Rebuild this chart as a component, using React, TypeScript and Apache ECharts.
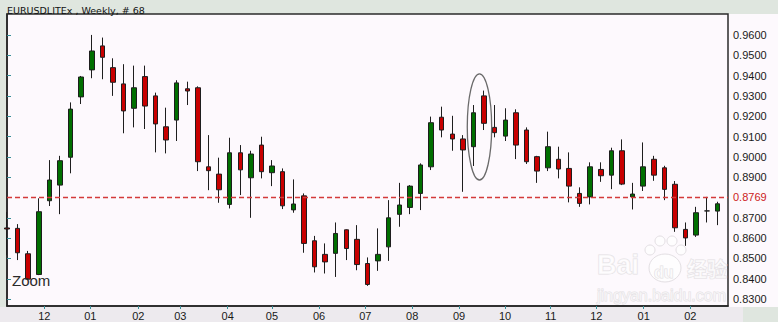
import React, { useEffect, useRef } from 'react';
import * as echarts from 'echarts';

// Weekly candles (index positions); one empty slot at the right edge
const categories: string[] = Array.from({ length: 69 }, (_, i) => String(i));

const openP = [0.8650, 0.8648, 0.8523, 0.8421, 0.8784, 0.8861, 0.8998, 0.9295, 0.9428, 0.9546,
  0.9439, 0.9359, 0.9239, 0.9395, 0.9300, 0.9148, 0.9181, 0.9335, 0.9340, 0.8951,
  0.8915, 0.8766, 0.9020, 0.8897, 0.9058, 0.8922, 0.8927, 0.8739, 0.8808, 0.8587,
  0.8520, 0.8525, 0.8641, 0.8594, 0.8475, 0.8488, 0.8557, 0.8717, 0.8751, 0.8820,
  0.8951, 0.9195, 0.9112, 0.9088, 0.9050, 0.9300, 0.9145, 0.9102, 0.9217, 0.9132,
  0.9001, 0.8946, 0.8988, 0.8943, 0.8820, 0.8803, 0.8938, 0.8910, 0.9030, 0.8803,
  0.8856, 0.8988, 0.8946, 0.8865, 0.8643, 0.8615, 0.8734, 0.8733];

const closeP = [0.8645, 0.8528, 0.8398, 0.8730, 0.8886, 0.8981, 0.9235, 0.9393, 0.9521, 0.9490,
  0.9367, 0.9226, 0.9340, 0.9250, 0.9162, 0.9083, 0.9364, 0.9324, 0.8976, 0.8932,
  0.8838, 0.9020, 0.8936, 0.9014, 0.8927, 0.8955, 0.8759, 0.8768, 0.8574, 0.8459,
  0.8483, 0.8623, 0.8549, 0.8470, 0.8372, 0.8520, 0.8700, 0.8763, 0.8856, 0.8960,
  0.9168, 0.9132, 0.9088, 0.9034, 0.9217, 0.9165, 0.9119, 0.9181, 0.9058, 0.8976,
  0.8930, 0.9050, 0.8940, 0.8856, 0.8771, 0.8951, 0.8907, 0.9030, 0.8866, 0.8817,
  0.8951, 0.8910, 0.8840, 0.8651, 0.8601, 0.8725, 0.8734, 0.8769];

const lowP = [0.8516, 0.8492, 0.8393, 0.8418, 0.8758, 0.8718, 0.8919, 0.9260, 0.9387, 0.9382,
  0.9300, 0.9116, 0.9145, 0.9137, 0.9022, 0.9017, 0.9078, 0.9255, 0.8930, 0.8836,
  0.8774, 0.8746, 0.8812, 0.8700, 0.8894, 0.8856, 0.8743, 0.8725, 0.8528, 0.8431,
  0.8426, 0.8409, 0.8492, 0.8442, 0.8365, 0.8439, 0.8488, 0.8656, 0.8718, 0.8738,
  0.8935, 0.9096, 0.9030, 0.8828, 0.8955, 0.9132, 0.9096, 0.9078, 0.8989, 0.8965,
  0.8872, 0.8930, 0.8894, 0.8776, 0.8754, 0.8766, 0.8877, 0.8841, 0.8861, 0.8741,
  0.8832, 0.8882, 0.8787, 0.8631, 0.8562, 0.8606, 0.8677, 0.8664];

const highP = [0.8728, 0.8669, 0.8537, 0.8796, 0.8984, 0.9005, 0.9268, 0.9398, 0.9600, 0.9587,
  0.9485, 0.9456, 0.9449, 0.9449, 0.9316, 0.9242, 0.9377, 0.9370, 0.9347, 0.9107,
  0.8996, 0.9094, 0.9058, 0.9030, 0.9099, 0.8984, 0.8943, 0.8889, 0.8820, 0.8611,
  0.8574, 0.8677, 0.8643, 0.8664, 0.8505, 0.8648, 0.8787, 0.8872, 0.8861, 0.8968,
  0.9198, 0.9247, 0.9202, 0.9107, 0.9255, 0.9326, 0.9255, 0.9239, 0.9234, 0.9145,
  0.9005, 0.9124, 0.9050, 0.9022, 0.8850, 0.8973, 0.8973, 0.9045, 0.9086, 0.8872,
  0.9071, 0.9005, 0.8956, 0.8881, 0.8677, 0.8754, 0.8803, 0.8779];

const yTickValues = [0.83, 0.84, 0.85, 0.86, 0.87, 0.88, 0.89, 0.90, 0.91, 0.92, 0.93, 0.94, 0.95, 0.96];
const yLabelValues = [0.83, 0.84, 0.85, 0.86, 0.87, 0.89, 0.90, 0.91, 0.92, 0.93, 0.94, 0.95, 0.96];
const yMin = 0.8266;
const yMax = 0.9703;

const monthPos = [3.52, 7.86, 12.38, 16.34, 20.81, 24.99, 29.43, 33.79, 38.22, 42.63, 46.97, 51.28, 55.58, 60.05, 64.44];
const monthLabels = ['12', '01', '02', '03', '04', '05', '06', '07', '08', '09', '10', '11', '12', '01', '02'];

const lastPrice = 0.8769;
const titleText = 'EURUSDLITEx , Weekly, # 68';

// highlighted region (ellipse annotation) in data units
const ellipseCenterIdx = 44.56;
const ellipseHalfWidthIdx = 1.15;
const ellipseTop = 0.9408;
const ellipseBottom = 0.8886;

export default function App() {
  const ref = useRef<HTMLDivElement>(null);

  useEffect(() => {
    if (!ref.current) return;
    const chart = echarts.init(ref.current, null, { renderer: 'svg' });
    const font = '"Liberation Sans", Arial, sans-serif';
    const data = openP.map((o, i) => [o, closeP[i], lowP[i], highP[i]]);
    const dashStyle = { type: [5, 3] as number[], color: '#d43a3a', width: 1.3 };

    chart.setOption({
      animation: false,
      backgroundColor: '#fdf9fd',
      textStyle: { fontFamily: font },
      grid: {
        left: 7, right: 50, top: 14, bottom: 16,
        show: true, backgroundColor: '#fdf9fd', borderColor: '#2b2b2b', borderWidth: 1.5,
      },
      xAxis: [
        { type: 'category', data: categories, boundaryGap: false, show: false },
        {
          type: 'value', min: 0, max: categories.length - 1, position: 'bottom',
          axisLine: { show: true, lineStyle: { color: '#222', width: 1.5 } },
          axisTick: { show: true, customValues: monthPos, length: 3, lineStyle: { color: '#3a8f98', width: 1 } },
          axisLabel: {
            customValues: monthPos,
            formatter: (v: number) => {
              let best = 0;
              monthPos.forEach((p, i) => { if (Math.abs(p - v) < Math.abs(monthPos[best] - v)) best = i; });
              return monthLabels[best];
            },
            color: '#1a1a1a', fontSize: 11, margin: 4, fontFamily: font,
          },
          splitLine: { show: false },
        },
      ],
      yAxis: {
        type: 'value', position: 'right', min: yMin, max: yMax,
        axisLine: { show: true, lineStyle: { color: '#222', width: 1.5 } },
        axisTick: { show: true, customValues: yTickValues, length: 4, lineStyle: { color: '#3a8f98', width: 1 } },
        axisLabel: {
          customValues: yLabelValues,
          formatter: (v: number) => v.toFixed(4),
          color: '#1a1a1a', fontSize: 11, margin: 5, fontFamily: font,
        },
        splitLine: { show: false },
      },
      series: [
        {
          type: 'candlestick',
          xAxisIndex: 0,
          yAxisIndex: 0,
          data,
          barWidth: 5,
          itemStyle: {
            color: '#006f00', color0: '#c80000',
            borderColor: '#1e1e1e', borderColor0: '#1e1e1e', borderWidth: 1,
          },
          markLine: {
            silent: true,
            symbol: ['none', 'none'],
            data: [{ yAxis: lastPrice, lineStyle: dashStyle }],
            lineStyle: dashStyle,
            label: {
              show: true, position: 'end', formatter: lastPrice.toFixed(4),
              color: '#cc2222', fontSize: 11, fontFamily: font, distance: 5,
            },
          },
        },
      ],
    });

    const cx = chart.convertToPixel({ xAxisIndex: 1 }, ellipseCenterIdx) as number;
    const cx2 = chart.convertToPixel({ xAxisIndex: 1 }, ellipseCenterIdx + ellipseHalfWidthIdx) as number;
    const yT = chart.convertToPixel({ yAxisIndex: 0 }, ellipseTop) as number;
    const yB = chart.convertToPixel({ yAxisIndex: 0 }, ellipseBottom) as number;

    const wmStroke = '#e3dfe3';
    const wmFill = 'rgba(255,255,255,0.6)';
    chart.setOption({
      graphic: [
        { type: 'rect', z: -10, silent: true, shape: { x: 0, y: 0, width: 778, height: 14 }, style: { fill: '#dfe6df' } },
        { type: 'rect', z: -10, silent: true, shape: { x: 0, y: 14, width: 6, height: 293 }, style: { fill: '#dfe6df' } },
        { type: 'rect', z: -10, silent: true, shape: { x: 0, y: 307, width: 743, height: 15 }, style: { fill: '#edeaee' } },
        { type: 'rect', z: -10, silent: true, shape: { x: 743, y: 307, width: 35, height: 15 }, style: { fill: '#dfe6df' } },
        {
          type: 'text', z: 100, silent: true,
          style: { text: titleText, x: 7, y: 15, textVerticalAlign: 'bottom', fill: '#111', font: '9.5px "DejaVu Sans", Verdana, sans-serif' },
        },
        {
          type: 'text', z: 100, silent: true,
          style: { text: 'Zoom', x: 12, y: 288, textVerticalAlign: 'bottom', fill: '#2a2a2a', font: '15px ' + font },
        },
        // watermark
        {
          type: 'text', z: 50, silent: true,
          style: { text: 'Bai', x: 597, y: 278, textVerticalAlign: 'bottom', fill: wmFill, stroke: wmStroke, lineWidth: 1, font: 'bold 27px ' + font },
        },
        { type: 'ellipse', z: 50, silent: true, shape: { cx: 665, cy: 268, rx: 16, ry: 14 }, style: { fill: wmFill, stroke: wmStroke, lineWidth: 1 } },
        { type: 'circle', z: 50, silent: true, shape: { cx: 650, cy: 250, r: 5 }, style: { fill: wmFill, stroke: wmStroke, lineWidth: 1 } },
        { type: 'circle', z: 50, silent: true, shape: { cx: 660, cy: 241, r: 5 }, style: { fill: wmFill, stroke: wmStroke, lineWidth: 1 } },
        { type: 'circle', z: 50, silent: true, shape: { cx: 672, cy: 241, r: 5 }, style: { fill: wmFill, stroke: wmStroke, lineWidth: 1 } },
        { type: 'circle', z: 50, silent: true, shape: { cx: 681, cy: 250, r: 5 }, style: { fill: wmFill, stroke: wmStroke, lineWidth: 1 } },
        {
          type: 'text', z: 51, silent: true,
          style: { text: 'du', x: 654, y: 280, textVerticalAlign: 'bottom', fill: wmFill, stroke: wmStroke, lineWidth: 1, font: 'bold 16px ' + font },
        },
        {
          type: 'text', z: 50, silent: true,
          style: { text: '经验', x: 687, y: 278, textVerticalAlign: 'bottom', fill: wmFill, stroke: wmStroke, lineWidth: 1, font: 'bold 20px "Noto Sans CJK SC", sans-serif' },
        },
        {
          type: 'text', z: 50, silent: true,
          style: { text: 'jingyan.baidu.com', x: 597, y: 303, textVerticalAlign: 'bottom', fill: wmFill, stroke: wmStroke, lineWidth: 1, font: '16px ' + font },
        },
        // annotation ellipse
        {
          type: 'ellipse', z: 60, silent: true,
          shape: { cx, cy: (yT + yB) / 2, rx: Math.abs(cx2 - cx), ry: Math.abs(yB - yT) / 2 },
          style: { fill: 'none', stroke: '#6a6a6a', lineWidth: 1.3 },
        },
      ],
    });

    return () => chart.dispose();
  }, []);

  return <div ref={ref} style={{ width: 778, height: 322, position: 'absolute', left: 0, top: 0 }} />;
}
